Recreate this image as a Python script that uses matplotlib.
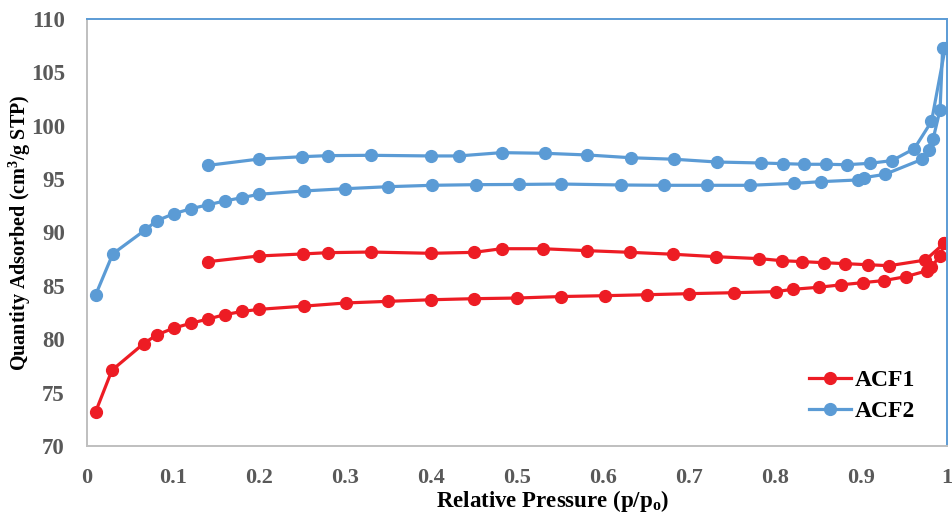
import matplotlib

matplotlib.use("Agg")
import matplotlib.pyplot as plt

# ACF1 isotherm (adsorption branch, then desorption branch from high p/po down)
acf1_ads_p = [0.010, 0.029, 0.066, 0.081, 0.101, 0.121, 0.141, 0.160, 0.180, 0.200,
              0.252, 0.301, 0.350, 0.400, 0.450, 0.500, 0.551, 0.602, 0.651, 0.700,
              0.752, 0.801, 0.821, 0.851, 0.877, 0.902, 0.927, 0.952, 0.977, 0.982,
              0.992, 0.997]
acf1_ads_q = [73.2, 77.1, 79.6, 80.4, 81.05, 81.5, 81.9, 82.3, 82.6, 82.8,
              83.1, 83.4, 83.55, 83.7, 83.8, 83.86, 84.0, 84.08, 84.17, 84.27,
              84.36, 84.46, 84.68, 84.87, 85.1, 85.3, 85.5, 85.86, 86.42, 86.8,
              87.8, 89.0]
acf1_des_p = [0.997, 0.975, 0.933, 0.908, 0.882, 0.857, 0.832, 0.808, 0.782, 0.732,
              0.682, 0.632, 0.581, 0.530, 0.482, 0.450, 0.400, 0.330, 0.280, 0.251,
              0.200, 0.141]
acf1_des_q = [89.0, 87.42, 86.89, 86.98, 87.08, 87.17, 87.27, 87.36, 87.55, 87.73,
              87.96, 88.14, 88.3, 88.48, 88.48, 88.14, 88.05, 88.17, 88.11, 87.99,
              87.8, 87.27]

# ACF2 isotherm
acf2_ads_p = [0.010, 0.030, 0.067, 0.081, 0.101, 0.121, 0.141, 0.160, 0.180, 0.200,
              0.252, 0.300, 0.350, 0.401, 0.452, 0.502, 0.551, 0.621, 0.671, 0.721,
              0.771, 0.822, 0.853, 0.896, 0.903, 0.928, 0.971, 0.979, 0.984, 0.992,
              0.995]
acf2_ads_q = [84.15, 88.0, 90.2, 91.1, 91.76, 92.23, 92.6, 92.95, 93.26, 93.58,
              93.89, 94.1, 94.29, 94.42, 94.48, 94.5, 94.54, 94.45, 94.42, 94.42,
              94.42, 94.6, 94.76, 94.92, 95.13, 95.45, 96.85, 97.7, 98.8, 101.5,
              107.3]
acf2_des_p = [0.998, 0.982, 0.962, 0.936, 0.910, 0.884, 0.859, 0.834, 0.809, 0.784,
              0.733, 0.683, 0.633, 0.582, 0.532, 0.482, 0.432, 0.400, 0.330, 0.280,
              0.250, 0.200, 0.141]
acf2_des_q = [107.3, 100.4, 97.85, 96.73, 96.48, 96.35, 96.39, 96.39, 96.45, 96.51,
              96.6, 96.86, 97.0, 97.26, 97.42, 97.48, 97.17, 97.17, 97.23, 97.2,
              97.1, 96.88, 96.29]

x_ticks = [0, 0.1, 0.2, 0.3, 0.4, 0.5, 0.6, 0.7, 0.8, 0.9, 1]
x_tick_labels = ["0", "0.1", "0.2", "0.3", "0.4", "0.5", "0.6", "0.7", "0.8", "0.9", "1"]
y_ticks = [70, 75, 80, 85, 90, 95, 100, 105, 110]

RED = "#ED1C24"
BLUE = "#5B9BD5"
SERIF = ["Liberation Serif", "DejaVu Serif"]

plt.rcParams.update({"font.family": SERIF, "font.weight": "bold"})

fig = plt.figure(figsize=(9.52, 5.13), dpi=100)
ax = fig.add_axes([0.0914, 0.1306, 0.9033, 0.8324])

style = dict(marker="o", markersize=8.5, linewidth=2.3)
ax.plot(acf1_ads_p, acf1_ads_q, color=RED, label="ACF1", **style)
ax.plot(acf1_des_p, acf1_des_q, color=RED, **style)
ax.plot(acf2_ads_p, acf2_ads_q, color=BLUE, label="ACF2", **style)
ax.plot(acf2_des_p, acf2_des_q, color=BLUE, **style)

ax.set_xlim(0, 1)
ax.set_ylim(70, 110)
ax.set_xticks(x_ticks)
ax.set_xticklabels(x_tick_labels)
ax.set_yticks(y_ticks)
ax.tick_params(axis="x", length=0, pad=16, labelsize=16, labelcolor="#595959")
ax.tick_params(axis="y", length=0, pad=16, labelsize=16.5, labelcolor="#595959")

for side in ("left", "bottom"):
    ax.spines[side].set_color("#BFBFBF")
    ax.spines[side].set_linewidth(1.4)
for side in ("top", "right"):
    ax.spines[side].set_color(BLUE)
    ax.spines[side].set_linewidth(1.4)

ax.set_xlabel("Relative Pressure (p/p$_\\mathregular{o}$)", fontsize=16.5, fontweight="bold")
ax.xaxis.set_label_coords(0.542, -0.099)
ax.set_ylabel("Quantity Adsorbed (cm$^\\mathregular{3}$/g STP)", fontsize=14.5, fontweight="bold")
ax.yaxis.set_label_coords(-0.063, 0.5)

ax.legend(loc="lower right", bbox_to_anchor=(0.977, 0.029), frameon=False,
          prop={"family": SERIF, "weight": "bold", "size": 17},
          handlelength=1.8, handletextpad=0.15, labelspacing=0.38, borderpad=0.0)

fig.savefig("out.png", dpi=100)
